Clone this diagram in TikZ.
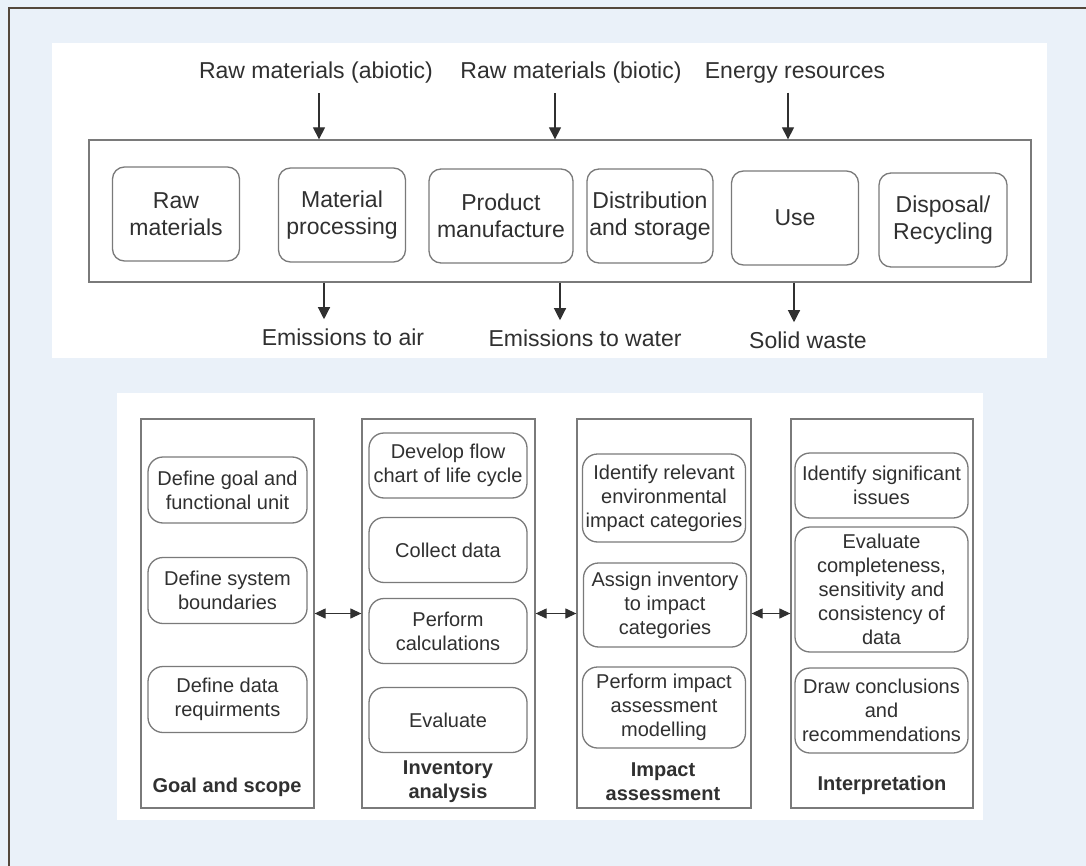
\documentclass[tikz,border=0pt]{standalone}
\usepackage{fontspec}
\setmainfont{Liberation Sans}
\usetikzlibrary{arrows.meta}
\definecolor{bgblue}{HTML}{EAF1F9}
\definecolor{framebrown}{HTML}{54483C}
\definecolor{boxgray}{HTML}{7A7A7A}
\definecolor{txtgray}{HTML}{303030}
\newcommand{\bigfont}{\fontsize{23}{27}\selectfont}
\newcommand{\smallfont}{\fontsize{20}{24}\selectfont}
\begin{document}
\begin{tikzpicture}[x=1pt,y=-1pt,
		stage/.style={draw=boxgray,line width=1.3pt,rounded corners=12pt,inner sep=0,
			minimum height=94pt,align=center,font=\bigfont,text=txtgray},
		flow/.style={font=\bigfont,outer sep=6pt,text=txtgray},
		phase/.style={draw=boxgray,line width=1.3pt,minimum height=389pt,inner sep=0},
		task/.style={draw=boxgray,line width=1.3pt,rounded corners=15pt,inner sep=0,
			align=center,font=\smallfont,text=txtgray},
		phaselabel/.style={font=\smallfont\bfseries,align=center,text=txtgray},
		inarr/.style={draw=txtgray,line width=1.2pt,-{Triangle[length=12pt,width=12pt]}},
		biarr/.style={draw=txtgray,line width=1.2pt,
			{Triangle[length=11pt,width=10pt]}-{Triangle[length=11pt,width=10pt]}}]
		\useasboundingbox (0,0) rectangle (1086,866);
		\fill[bgblue] (0,0) rectangle (1086,866);
		\draw[framebrown,line width=2.5pt] (9,866) -- (9,8) -- (1086,8);
		\fill[white] (52,43) rectangle (1047,358);
		\fill[white] (117,393) rectangle (983,820);
		% life cycle
		\node[draw=boxgray,line width=1.3pt,minimum width=942pt,minimum height=142pt] (lc) at (560,211) {};
		\node[stage,minimum width=127pt] (rm) at (176,214) {Raw\\materials};
		\node[stage,minimum width=127pt] (mp) at (342,215) {Material\\processing};
		\node[stage,minimum width=144pt] (pm) at (501,216) {Product\\manufacture};
		\node[stage,minimum width=126pt] (ds) at (650,216) {Distribution\\and storage};
		\node[stage,minimum width=127pt] (use) at (795,218) {Use};
		\node[stage,minimum width=128pt] (dr) at (943,220) {Disposal/\\Recycling};
		\node[flow] (abio) at (316,73) {Raw materials (abiotic)};
		\node[flow] (bio) at (571,73) {Raw materials (biotic)};
		\node[flow] (en) at (795,73) {Energy resources};
		\node[flow] (air) at (343,337) {Emissions to air};
		\node[flow] (wat) at (585,338) {Emissions to water};
		\node[flow] (sw) at (808,340) {Solid waste};
		\draw[inarr] ([xshift=3pt]abio.south) -- ([xshift=3pt]abio.south |- lc.north);
		\draw[inarr] ([xshift=-16pt]bio.south) -- ([xshift=-16pt]bio.south |- lc.north);
		\draw[inarr] ([xshift=-7pt]en.south) -- ([xshift=-7pt]en.south |- lc.north);
		\draw[inarr] ([xshift=-19pt]air.north |- lc.south) -- ([xshift=-19pt]air.north);
		\draw[inarr] ([xshift=-25pt]wat.north |- lc.south) -- ([xshift=-25pt]wat.north);
		\draw[inarr] ([xshift=-14pt]sw.north |- lc.south) -- ([xshift=-14pt]sw.north);
		% assessment phases
		\node[phase,minimum width=173pt] (gs) at (227.5,613.5) {};
		\node[phase,minimum width=173pt] (ia) at (448.5,613.5) {};
		\node[phase,minimum width=174pt] (ip) at (664,613.5) {};
		\node[phase,minimum width=182pt] (it) at (882,613.5) {};
		\begin{scope}[nodes={minimum width=159pt,minimum height=66pt}]
		\node[task] (gs1) at (227.5,490) {Define goal and\\functional unit};
		\node[task] (gs2) at (227.5,590.5) {Define system\\boundaries};
		\node[task] (gs3) at (227.5,699.5) {Define data\\requirments};
		\end{scope}
		\begin{scope}[nodes={minimum width=158pt,minimum height=65pt}]
		\node[task] (ia1) at (448,465.5) {Develop flow\\chart of life cycle};
		\node[task] (ia2) at (448,550) {Collect data};
		\node[task] (ia3) at (448,631) {Perform\\calculations};
		\node[task] (ia4) at (448,720) {Evaluate};
		\end{scope}
		\begin{scope}[nodes={minimum width=163pt}]
		\node[task,minimum height=88pt] (ip1) at (664,498) {Identify relevant\\environmental\\impact categories};
		\node[task,minimum height=84pt] (ip2) at (665,605) {Assign inventory\\to impact\\categories};
		\node[task,minimum height=81pt] (ip3) at (664,707.5) {Perform impact\\assessment\\modelling};
		\end{scope}
		\begin{scope}[nodes={minimum width=173pt}]
		\node[task,minimum height=65pt] (it1) at (881.5,485.5) {Identify significant\\issues};
		\node[task,minimum height=125pt] (it2) at (881.5,589.5) {Evaluate\\completeness,\\sensitivity and\\consistency of\\data};
		\node[task,minimum height=85pt] (it3) at (881.5,710.5) {Draw conclusions\\and\\recommendations};
		\end{scope}
		\node[phaselabel] (gsl) at (227,787) {Goal and scope};
		\node[phaselabel] (ial) at (448,782) {Inventory\\analysis};
		\node[phaselabel] (ipl) at (663,782) {Impact\\assessment};
		\node[phaselabel] (itl) at (882,785) {Interpretation};
		\draw[biarr] (gs) -- (ia);
		\draw[biarr] (ia) -- (ip);
		\draw[biarr] (ip) -- (it);
\end{tikzpicture}
\end{document}
